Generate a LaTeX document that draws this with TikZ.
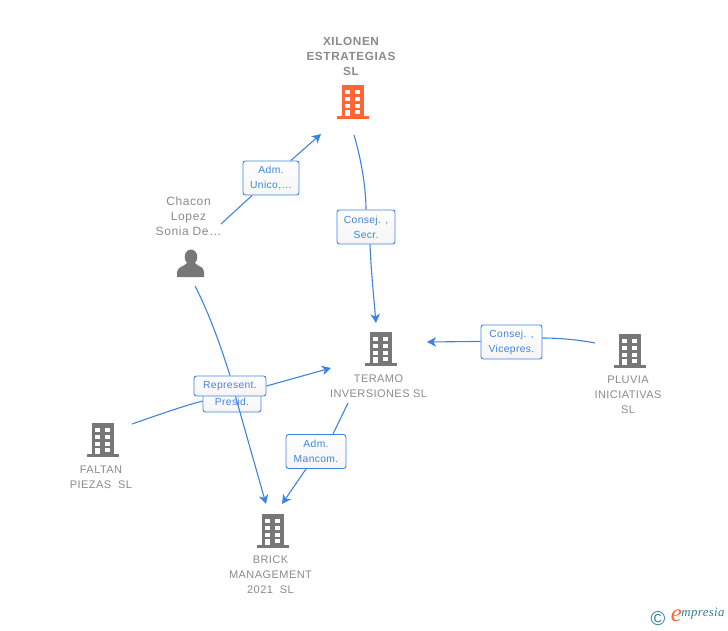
\documentclass[tikz,border=0pt]{standalone}
\usepackage{fontspec}
\setmainfont{Liberation Sans}
\newfontfamily\logofont{Liberation Serif}
\usetikzlibrary{calc}
\usetikzlibrary{positioning}
\usetikzlibrary{arrows.meta}
\definecolor{linkblue}{HTML}{3F83E2}
\definecolor{labelgray}{HTML}{8A8A8A}
\definecolor{icongray}{HTML}{777777}
\definecolor{iconorange}{HTML}{FF6633}
\definecolor{logoteal}{HTML}{2F7F9A}
\tikzset{
  buildicon/.pic={
    \fill[#1] (-11,0) rectangle (11,31);
    \fill[#1] (-16,31) rectangle (16,34);
    \foreach \r in {5,12,19}{
      \fill[white] (-7.7,\r) rectangle (-2.7,\r+4.3);
      \fill[white] (2.3,\r) rectangle (7.3,\r+4.3);
    }
    \fill[white] (-7.7,25) rectangle (-2.7,31);
    \fill[white] (2.3,25) rectangle (7.3,29);
  },
  firmlabel/.style={text=labelgray,align=center,inner sep=0pt,
    font=\fontsize{11}{15}\selectfont\addfontfeature{LetterSpace=4}},
  linkbox/.style={draw=linkblue,line width=0.9pt,rounded corners=2.5pt,top color=white,
    bottom color=black!4,text=linkblue,align=center,inner sep=0pt,
    font=\fontsize{10.3}{15}\selectfont\addfontfeature{LetterSpace=3.5}},
  link/.style={draw=linkblue,line width=1.1pt},
  linkto/.style={link,-{Stealth[length=9pt,width=9.5pt,inset=2.5pt]}}
}
\begin{document}
\begin{tikzpicture}[x=1pt,y=-1pt]
  \useasboundingbox (0,0) rectangle (728,630);
  % building icons
  \pic at (353,85) {buildicon=iconorange};
  \foreach \x/\y in {381/332,630/334,103/423,273/514}{
    \pic at (\x,\y) {buildicon=icongray};
  }
  % person icon
  \fill[icongray] (191,257) ellipse (6.3 and 7.5);
  \fill[icongray] (177,277) -- (177,272) .. controls (178,266) and (184,267) .. (187,263)
    -- (195,263) .. controls (198,267) and (204,266) .. (204,272) -- (204,277) -- cycle;
  % names
  \node[firmlabel,font=\fontsize{11.8}{15}\selectfont\bfseries\addfontfeature{LetterSpace=5}] (xilonen) at (351,56) {XILONEN\\ESTRATEGIAS\\SL};
  \node[firmlabel,font=\fontsize{12}{15}\selectfont\addfontfeature{LetterSpace=5}] (chacon) at (188.5,216) {Chacon\\Lopez\\Sonia De\dots};
  \node[firmlabel] (teramo) at (378.5,386) {TERAMO\\INVERSIONES SL};
  \node[firmlabel] (pluvia) at (628,395) {PLUVIA\\INICIATIVAS\\SL};
  \node[firmlabel] (faltan) at (101,477) {FALTAN\\PIEZAS\ \ SL};
  \node[firmlabel] (brick) at (270.5,575) {BRICK\\MANAGEMENT\\2021\ \ SL};
  % link boxes
  \node[linkbox,minimum width=56pt,minimum height=34pt] (admunico) at (271,178) {Adm.\\Unico,\dots};
  \node[linkbox,minimum width=58pt,minimum height=34pt] (consecr) at (366,227) {Consej. ,\\Secr.};
  \node[linkbox,minimum width=61pt,minimum height=34pt] (convice) at (511.5,342) {Consej. ,\\Vicepres.};
  \node[linkbox,minimum width=58pt,minimum height=20pt] (presid) at (232,402) {Presid.};
  \node[linkbox,minimum width=60pt,minimum height=34pt] (admman) at (316,451.5) {Adm.\\Mancom.};
  % free ends
  \coordinate (chaconA) at (221,224);
  \coordinate (chaconB) at (195,286);
  \coordinate (xilonenIn) at (321,134);
  \coordinate (xilonenOut) at (354,135);
  \coordinate (teramoTop) at (376,323);
  \coordinate (teramoLeft) at (331,368);
  \coordinate (teramoRight) at (427,342);
  \coordinate (teramoOut) at (348,403);
  \coordinate (pluviaOut) at (595,343);
  \coordinate (faltanOut) at (132,424);
  \coordinate (brickA) at (266,504);
  \coordinate (brickB) at (282,504);
  % links
  \draw[link] (chaconA) -- (admunico);
  \draw[linkto] (admunico) -- (xilonenIn);
  \draw[link] (xilonenOut) .. controls (360,155) and (366,185) .. (consecr.north);
  \draw[linkto] ([xshift=4pt]consecr.south) .. controls (371,270) and (374,300) .. (teramoTop);
  \draw[link] (pluviaOut) .. controls (580,340) and (560,338) .. ([yshift=4pt]convice.east);
  \draw[linkto] ([yshift=0.6pt]convice.west) -- (teramoRight);
  \draw[link] (teramoOut) -- ([xshift=17pt]admman.north);
  \draw[linkto] ([xshift=-10pt]admman.south) -- (brickB);
  \draw[link] (faltanOut) .. controls (155,416) and (180,407) .. ([yshift=1pt]presid.west);
  % the long one runs across Presid., under Represent.
  \node[linkbox,minimum width=72pt,minimum height=20pt] (represent) at (230,386) {Represent.};
  \draw[link] (chaconB) .. controls (210,315) and (222,350) .. (represent.north);
  \draw[linkto] ([xshift=5.5pt]represent.south) -- (brickA);
  \draw[linkto] (represent.east) -- (teramoLeft);
  % logo
  \node[text=logoteal,inner sep=0pt,font=\fontsize{20}{20}\selectfont] (copy) at (658,619) {\textcopyright};
  \node[text=iconorange,inner sep=0pt,font=\logofont\itshape\fontsize{25}{25}\selectfont] (logoe) at (676.5,616) {e};
  \node[right=-1pt of logoe,text=logoteal,inner sep=0pt,font=\logofont\itshape\fontsize{12.8}{14}\selectfont\addfontfeature{LetterSpace=3},yshift=2pt] (logotxt) {mpresia};
\end{tikzpicture}
\end{document}
